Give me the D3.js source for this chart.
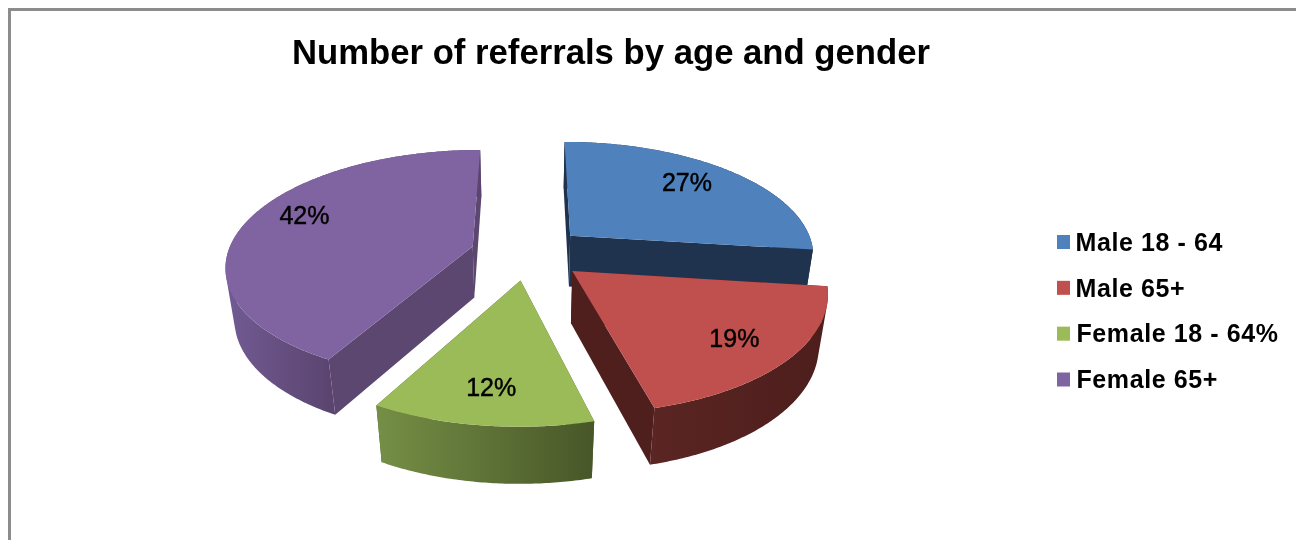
<!DOCTYPE html>
<html>
<head>
<meta charset="utf-8">
<script src="https://cdn.jsdelivr.net/npm/d3@7/dist/d3.min.js"></script>
<style>
html,body{margin:0;padding:0;background:#fff;overflow:hidden}
svg{display:block;filter:blur(0.4px)}
text{font-family:"Liberation Sans",Arial,sans-serif;font-weight:bold;fill:#000}
</style>
</head>
<body>
<svg id="c" width="1296" height="540"></svg>
<script>
const titleText = "Number of referrals by age and gender";
const categories = ["Male 18 - 64","Male 65+","Female 18 - 64%","Female 65+"];
const values = [27,19,12,42];
const topColors = ["#4f81bd","#c0504d","#9bbb59","#8064a2"];
const faceColors = ["#1f334f","#4f1f1d","#4a5828","#5b4770"];
const wallFrom = ["#1f334f","#5a2522","#758f46","#725b93"];
const wallTo = ["#1f334f","#4d1e1c","#485628","#5b4570"];
const drawOrder = [3,0,1,2];

// Perspective camera for the tilted disc
const view = {cx:528, cy:253, sx:245, sy:113.6, depth:53, persp:0.157, shrink:0.03, explode:0.235, labelRadius:0.775};
const labelNudge = [[-9,-2],[-1,0],[0,-1],[7,-11]];
function project(u,v,z){
  const w = 1 + view.persp*v + view.shrink*z;
  return [view.cx + view.sx*u/w, view.cy + (-view.sy*v + view.depth*z)/w];
}
const svg = d3.select("#c");
const defs = svg.append("defs");
const line = d3.line();
const arcs = d3.pie().sort(null)(values);

// frame
svg.append("path").attr("d","M9.5 540V9.5H1296").attr("fill","none").attr("stroke","#8c8c8c").attr("stroke-width",3);

svg.append("text").attr("x",611).attr("y",64).attr("text-anchor","middle").attr("font-size",34.7).text(titleText);

function sliceGeometry(a){
  const mid=(a.startAngle+a.endAngle)/2;
  const ox=view.explode*Math.sin(mid), oy=view.explode*Math.cos(mid);
  const thetas=d3.range(a.startAngle,a.endAngle,0.01).concat([a.endAngle]);
  const rim=z=>thetas.map(t=>project(ox+Math.sin(t),oy+Math.cos(t),z));
  const apex=z=>project(ox,oy,z);
  return {ox,oy,rim,apex,mid,thetas};
}
// Wall as one path of same-wound quads, so the fold at the silhouette stays filled
function wallPath(top,bot){
  let d="";
  for(let k=0;k<top.length-1;k++){
    const quad=[top[k],top[k+1],bot[k+1],bot[k]];
    d+=line(d3.polygonArea(quad)<0?quad.slice().reverse():quad)+"Z";
  }
  return d;
}
const g=svg.append("g");
drawOrder.forEach(i=>{
  const p=sliceGeometry(arcs[i]);
  const top=p.rim(0), bot=p.rim(1);
  const at=p.apex(0), ab=p.apex(1);
  // radial cut faces
  g.append("path").attr("d",line([at,top[0],bot[0],ab])+"Z").attr("fill",faceColors[i]);
  g.append("path").attr("d",line([at,top[top.length-1],bot[bot.length-1],ab])+"Z").attr("fill",faceColors[i]);
  // outer wall with horizontal gradient over its viewer-facing part
  const frontX=top.filter((q,k)=>Math.cos(p.thetas[k])<0.05).map(q=>q[0]);
  const xe=d3.extent(frontX.length?frontX:top.map(q=>q[0]));
  const gid="wall"+i;
  const lg=defs.append("linearGradient").attr("id",gid).attr("gradientUnits","userSpaceOnUse")
    .attr("x1",xe[0]).attr("x2",xe[1]).attr("y1",0).attr("y2",0);
  lg.append("stop").attr("offset",0).attr("stop-color",wallFrom[i]);
  lg.append("stop").attr("offset",1).attr("stop-color",wallTo[i]);
  g.append("path").attr("d",wallPath(top,bot)).attr("fill",`url(#${gid})`);
  // top surface
  g.append("path").attr("d",line([at].concat(top))+"Z").attr("fill",topColors[i]);
});

// percentage labels
const total=d3.sum(values);
arcs.forEach((a,i)=>{
  const mid=(a.startAngle+a.endAngle)/2;
  const ox=view.explode*Math.sin(mid), oy=view.explode*Math.cos(mid);
  const q=project(ox+view.labelRadius*Math.sin(mid),oy+view.labelRadius*Math.cos(mid),0);
  svg.append("text").attr("x",q[0]+labelNudge[i][0]).attr("y",q[1]+9+labelNudge[i][1]).attr("text-anchor","middle").attr("font-size",25)
    .style("font-weight","normal").attr("stroke","#000").attr("stroke-width",0.45)
    .text(Math.round(values[i]/total*100)+"%");
});

// legend
const rowY=d3.scalePoint().domain(categories).range([242,379.5]);
categories.forEach((c,i)=>{
  svg.append("rect").attr("x",1057).attr("y",rowY(c)-7).attr("width",13).attr("height",14).attr("fill",topColors[i]);
  svg.append("text").attr("x",i<2?1075.5:1076.5).attr("y",rowY(c)+8.7).attr("font-size",25).attr("letter-spacing",0.6).text(c);
});
</script>
</body>
</html>
